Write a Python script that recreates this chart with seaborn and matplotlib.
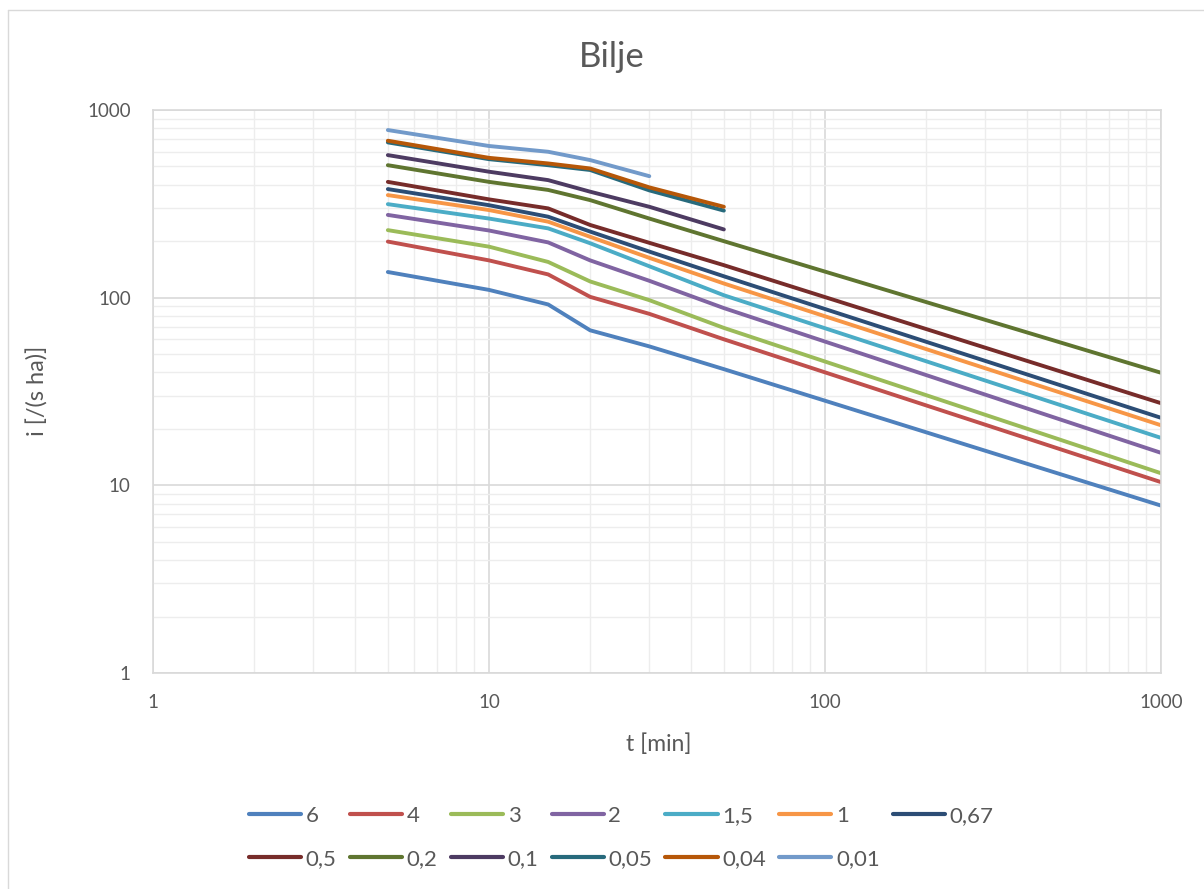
import numpy as np
import pandas as pd
import seaborn as sns
import matplotlib.pyplot as plt
from matplotlib.lines import Line2D
from matplotlib.ticker import LogLocator, NullFormatter

# trajanje kise t [min]
t_long = [5, 10, 15, 20, 30, 50, 1000]
t_mid = [5, 10, 15, 20, 30, 50]
t_short = [5, 10, 15, 20, 30]

# povratni period -> intenzitet i [/(s ha)]
i_6 = [137, 110, 92, 67, 55, 41.6, 7.8]
i_4 = [199, 158, 133, 101, 82, 60, 10.4]
i_3 = [229, 187, 155, 122, 97, 69, 11.6]
i_2 = [276, 228, 197, 158, 123, 88, 14.9]
i_1_5 = [315, 264, 234, 195, 147, 103, 17.9]
i_1 = [352, 293, 254, 211, 163, 119, 20.9]
i_0_67 = [379, 311, 270, 225, 176, 130, 22.9]
i_0_5 = [414, 334, 299, 244, 196, 149, 27.4]
i_0_2 = [508, 414, 375, 331, 264, 200, 39.8]
i_0_1 = [575, 469, 423, 367, 305, 231]
i_0_05 = [672, 547, 508, 479, 373, 291]
i_0_04 = [686, 556, 519, 488, 387, 305]
i_0_01 = [782, 643, 599, 541, 444]

names = ['6', '4', '3', '2', '1,5', '1', '0,67', '0,5', '0,2', '0,1', '0,05', '0,04', '0,01']
values = [i_6, i_4, i_3, i_2, i_1_5, i_1, i_0_67, i_0_5, i_0_2, i_0_1, i_0_05, i_0_04, i_0_01]
colors = ['#4F81BD', '#C0504D', '#9BBB59', '#8064A2', '#4BACC6', '#F79646',
          '#2C4D75', '#772C2A', '#5F7530', '#4D3B62', '#276A7C', '#B65708', '#729ACA']

# long table for seaborn
rows = []
for name, vals in zip(names, values):
    tt = {7: t_long, 6: t_mid, 5: t_short}[len(vals)]
    for t, v in zip(tt, vals):
        rows.append({'t': t, 'i': v, 'p': name})
df = pd.DataFrame(rows)

sns.set_style('white')
plt.rcParams['font.family'] = ['Lato', 'DejaVu Sans']
txt = '#595959'

fig = plt.figure(figsize=(12.04, 8.89), dpi=100)
ax = fig.add_axes([153 / 1204, 1 - 673 / 889, (1161 - 153) / 1204, (673 - 110) / 889])

sns.lineplot(data=df, x='t', y='i', hue='p', hue_order=names,
             palette=dict(zip(names, colors)), estimator=None, sort=False,
             lw=2.8, solid_capstyle='round', solid_joinstyle='round',
             legend=False, ax=ax)

# log-log axes like the excel original
ax.set_xscale('log')
ax.set_yscale('log')
ax.set_xlim(1, 1000)
ax.set_ylim(1, 1000)
ax.set_xticks([1, 10, 100, 1000], ['1', '10', '100', '1000'])
ax.set_yticks([1, 10, 100, 1000], ['1', '10', '100', '1000'])
for axis in (ax.xaxis, ax.yaxis):
    axis.set_minor_locator(LogLocator(base=10, subs=np.arange(2, 10)))
    axis.set_minor_formatter(NullFormatter())
ax.set_axisbelow(True)
ax.grid(which='major', color='#D9D9D9', lw=1.2)
ax.grid(which='minor', color='#EDEDED', lw=1.0)
ax.tick_params(which='both', length=0, labelsize=13.5, colors=txt)
ax.tick_params(axis='y', pad=16)
ax.tick_params(axis='x', pad=15)
for s in ax.spines.values():
    s.set_color('#D9D9D9')
    s.set_linewidth(1.2)
ax.set_xlabel('')
ax.set_ylabel('')

fig.text(612 / 1204, 1 - 57 / 889, 'Bilje', ha='center', va='center', fontsize=25, color=txt)
fig.text(659 / 1204, 1 - 744 / 889, 't [min]', ha='center', va='center', fontsize=16.5, color=txt)
fig.text(38 / 1204, 1 - 391 / 889, 'i [/(s ha)]', ha='center', va='center', rotation=90,
         fontsize=17, color=txt)

# legend: two rows, row-major order (matplotlib fills column-wise)
handles = [Line2D([0], [0], color=c, lw=3, solid_capstyle='round') for c in colors]
order = [0, 7, 1, 8, 2, 9, 3, 10, 4, 11, 5, 12, 6]
leg = fig.legend([handles[k] for k in order], [names[k] for k in order], ncol=7,
                 loc='center left', bbox_to_anchor=(238 / 1204, 1 - 837.5 / 889),
                 frameon=False, fontsize=16, handlelength=2.35, handletextpad=0.2,
                 columnspacing=0.6, labelspacing=1.05, borderpad=0)
for t in leg.get_texts():
    t.set_color(txt)

# chart area border (only top/left visible in the crop)
fig.add_artist(Line2D([8 / 1204, 8 / 1204], [0, 1 - 10 / 889], transform=fig.transFigure,
                      color='#D9D9D9', lw=1))
fig.add_artist(Line2D([8 / 1204, 1], [1 - 10 / 889, 1 - 10 / 889], transform=fig.transFigure,
                      color='#D9D9D9', lw=1))

fig.savefig('out.png', dpi=100)
